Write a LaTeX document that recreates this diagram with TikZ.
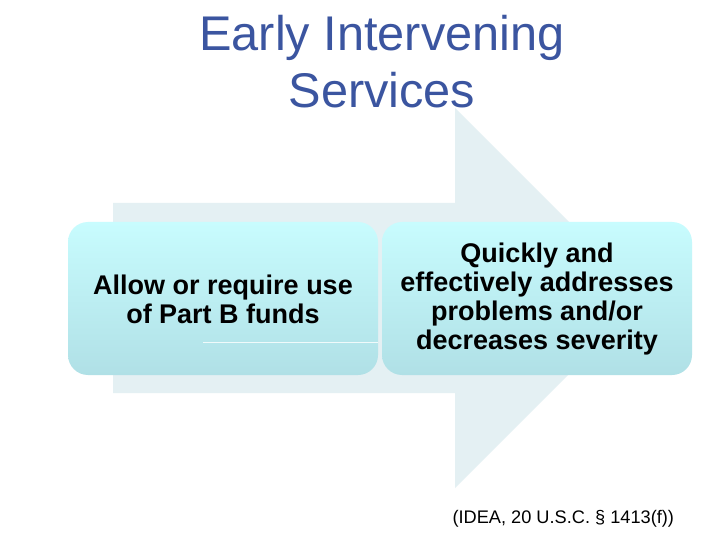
\documentclass[tikz,border=0pt]{standalone}
\usepackage{fontspec}
\setmainfont{Liberation Sans}
\definecolor{titleblue}{RGB}{59,85,160}
\definecolor{arrowfill}{RGB}{228,240,243}
\definecolor{boxtop}{RGB}{200,252,254}
\definecolor{boxbot}{RGB}{176,224,230}
\begin{document}
\begin{tikzpicture}[x=1pt,y=-1pt,
  stepbox/.style={rounded corners=20pt,top color=boxtop,bottom color=boxbot,draw=none},
  boxtext/.style={font=\bfseries\fontsize{27}{29}\selectfont,align=center,text=black}]
\useasboundingbox (0,0) rectangle (720,540);
\fill[white] (0,0) rectangle (720,540);
% big arrow
\fill[arrowfill] (113,203) -- (455,203) -- (455,108) -- (645,298) -- (455,488) -- (455,393) -- (113,393) -- cycle;
% boxes
\path[stepbox] (68,222) rectangle (378,375);
\path[stepbox] (382,222) rectangle (692,375);
\draw[white,line width=0.8pt,opacity=0.8] (203,342) -- (378,342);
\node[boxtext] (b1) at (223,299) {Allow or require use\\of Part B funds};
\node[boxtext] (b2) at (537,299) {Quickly and\\effectively addresses\\problems and/or\\decreases severity};
% title
\node[font=\fontsize{48.7}{57}\selectfont,text=titleblue,align=center] (t) at (382,62) {Early Intervening\\Services};
% citation
\node[font=\fontsize{18.2}{20}\selectfont,anchor=west] (c) at (449,519) {(IDEA, 20 U.S.C. § 1413(f))};
\end{tikzpicture}
\end{document}
